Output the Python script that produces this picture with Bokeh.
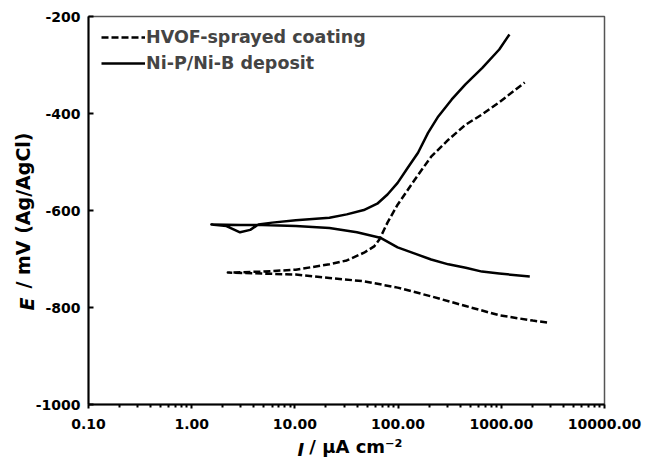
import math
from bokeh.plotting import figure
from bokeh.models import (FixedTicker, PrintfTickFormatter, Legend, LegendItem, Label, Range1d)
from bokeh.embed import file_html
from bokeh.resources import INLINE

# HVOF-sprayed coating (dashed): current density (uA/cm2) and potential (mV)
hvof_cath_I = [2.24, 4.8, 10.2, 21.6, 46.8, 98.9, 209, 452, 955, 2019, 2775]
hvof_cath_E = [-728, -730, -732, -739, -746, -759, -777, -797, -816, -827, -831]
hvof_anod_I = [2.24, 4.8, 10.2, 21.6, 31.8, 46.8, 58.6, 65.8, 78.9, 98.9, 145.5, 209, 307, 452, 650, 955, 1687]
hvof_anod_E = [-728, -726, -722, -711, -703, -687, -674, -660, -625, -588, -536, -489, -454, -423, -402, -377, -336]

# Ni-P/Ni-B deposit (solid)
nip_cath_I = [1.55, 3.0, 4.8, 10.2, 21.6, 39.9, 67, 98.9, 145.5, 209, 307, 452, 650, 955, 1888]
nip_cath_E = [-629, -630, -630, -632, -636, -645, -656, -676, -689, -701, -711, -718, -726, -730, -736]
nip_anod_I = [1.55, 2.17, 2.94, 3.69, 4.42, 6.03, 10.2, 21.6, 31.8, 46.5, 62.8, 78.9, 98.9, 124, 156, 195, 245, 331, 449, 655, 955, 1199]
nip_anod_E = [-629, -632, -645, -640, -629, -625, -620, -615, -608, -599, -586, -567, -543, -512, -481, -440, -406, -371, -340, -306, -268, -237]

x_ticks = [0.1, 1, 10, 100, 1000, 10000]
y_ticks = [-1000, -800, -600, -400, -200]
series_names = ["HVOF-sprayed coating", "Ni-P/Ni-B deposit"]

FONT = "DejaVu Sans"
NB = "\u00a0"

p = figure(width=648, height=460, x_axis_type="log", output_backend="svg",
           toolbar_location=None, x_range=Range1d(0.1, 10000), y_range=Range1d(-1000, -200),
           min_border_left=88, min_border_right=44, min_border_top=16, min_border_bottom=56)
p.xgrid.visible = False
p.ygrid.visible = False
p.outline_line_color = "#555555"
p.outline_line_width = 1.5

hv_I = hvof_cath_I[::-1] + hvof_anod_I[1:]
hv_E = hvof_cath_E[::-1] + hvof_anod_E[1:]
np_I = nip_cath_I[::-1] + nip_anod_I[1:]
np_E = nip_cath_E[::-1] + nip_anod_E[1:]

r1 = p.line(hv_I, hv_E, line_color="black", line_width=2.5, line_dash="7 3", line_join="round")
r2 = p.line(np_I, np_E, line_color="black", line_width=2.5, line_join="round")

minor = [k * 10 ** d for d in range(-1, 4) for k in range(2, 10)]
p.xaxis.ticker = FixedTicker(ticks=x_ticks, minor_ticks=minor)
p.xaxis.formatter = PrintfTickFormatter(format="%.2f")
p.yaxis.ticker = FixedTicker(ticks=y_ticks)
p.yaxis.formatter = PrintfTickFormatter(format="%d")

for ax in (p.xaxis, p.yaxis):
    ax.axis_line_width = 2
    ax.axis_line_color = "black"
    ax.major_tick_line_color = "black"
    ax.major_tick_line_width = 2
    ax.minor_tick_line_color = "black"
    ax.minor_tick_line_width = 2
    ax.major_label_text_font = FONT
    ax.major_label_text_font_style = "bold"
    ax.major_label_text_font_size = "14px"
    ax.major_label_text_color = "black"
    ax.axis_label_text_font = FONT
    ax.axis_label_text_font_style = "bold"
    ax.axis_label_text_color = "black"

p.xaxis.major_tick_in = 0
p.xaxis.major_tick_out = 4
p.xaxis.minor_tick_in = 0
p.xaxis.minor_tick_out = 3
p.xaxis.major_label_standoff = 10
p.xaxis.major_label_text_line_height = 1.0
p.xaxis.axis_label = NB * 3 + "/ μA cm⁻²"
p.xaxis.axis_label_text_font_size = "18px"
p.xaxis.axis_label_text_line_height = 1.0
p.xaxis.axis_label_standoff = 4
p.yaxis.major_tick_in = 5
p.yaxis.major_tick_out = 0
p.yaxis.minor_tick_line_color = None
p.yaxis.major_label_standoff = 8
p.yaxis.axis_label = "/ mV (Ag/AgCl)"
p.yaxis.axis_label_text_font_size = "19px"
p.yaxis.axis_label_standoff = -1

legend = Legend(items=[LegendItem(label=series_names[0], renderers=[r1]),
                       LegendItem(label=series_names[1], renderers=[r2])],
                location=(11, 329), border_line_alpha=0, background_fill_alpha=0,
                label_text_font=FONT, label_text_font_style="bold", label_text_font_size="17.5px",
                glyph_width=44, glyph_height=20, label_height=20, spacing=6, padding=2,
                margin=0, label_standoff=1)
p.add_layout(legend)

# italic symbols of the axis labels, placed in a side panel (not clipped)
lab_kw = dict(x_units="screen", y_units="screen", text_font=FONT, text_color="black",
              text_font_style="bold italic")
p.add_layout(Label(x=-307, y=-45, text="I", text_align="left", text_font_size="18px",
                   text_baseline="alphabetic", **lab_kw), "right")
p.add_layout(Label(x=-585, y=94, text="E", text_align="left", text_baseline="middle",
                   text_font_size="19px", angle=math.pi / 2, **lab_kw), "right")

open("out.html", "w").write(file_html(p, INLINE))
